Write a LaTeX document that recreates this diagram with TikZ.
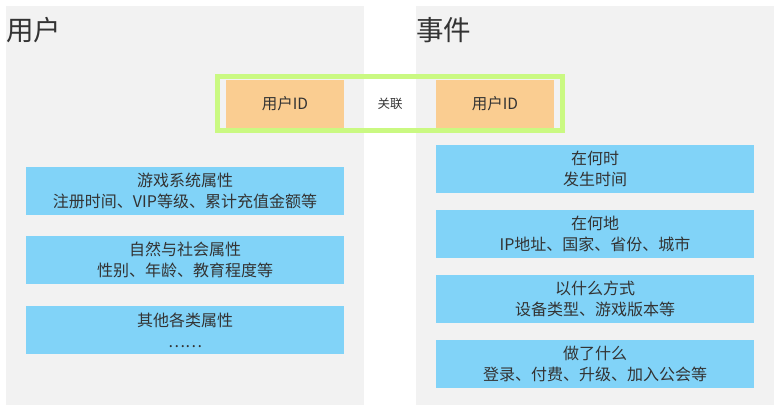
\documentclass[tikz,border=0pt]{standalone}
\usepackage{fontspec}
\setmainfont{Noto Sans CJK SC}
\definecolor{panel}{HTML}{F2F2F2}
\definecolor{bluebox}{HTML}{81D3F8}
\definecolor{orangebox}{HTML}{FACD91}
\definecolor{greenline}{HTML}{CAF982}
\definecolor{txt}{HTML}{333333}
\begin{document}
\begin{tikzpicture}[x=1pt,y=-1pt,
  panelbox/.style={fill=panel,draw=none},
  infobox/.style={fill=bluebox,draw=none,minimum width=318pt,minimum height=48pt,inner sep=0pt,
    align=center,text=txt,font=\fontsize{16}{21}\selectfont},
  idbox/.style={fill=orangebox,draw=none,minimum width=118pt,minimum height=48pt,inner sep=0pt,
    text=txt,font=\fontsize{15.5}{18}\selectfont},
  linkbox/.style={draw=greenline,line width=5pt,minimum width=345pt,minimum height=54pt,inner sep=0pt},
  titletext/.style={text=txt,font=\fontsize{27.5}{30}\selectfont,inner sep=0pt,anchor=west}]
\useasboundingbox (0,0) rectangle (775,405);
\fill[white] (0,0) rectangle (775,405);
\node[panelbox,minimum width=358pt,minimum height=399pt,inner sep=0pt,anchor=north west] (pleft) at (6,6) {};
\node[panelbox,minimum width=358pt,minimum height=399pt,inner sep=0pt,anchor=north west] (pright) at (416,6) {};
\node[titletext] (tuser) at (6,30) {用户};
\node[titletext] (tevent) at (416,30) {事件};
\node[linkbox] (link) at (390,103.5) {};
\node[idbox] (idl) at (285,104) {用户ID};
\node[idbox] (idr) at (495,104) {用户ID};
\node[text=txt,font=\fontsize{12.5}{14}\selectfont,inner sep=0pt] (rel) at (390,104) {关联};
\node[infobox] (l1) at (185,191) {游戏系统属性\\注册时间、VIP等级、累计充值金额等};
\node[infobox] (l2) at (185,260) {自然与社会属性\\性别、年龄、教育程度等};
\node[infobox] (l3) at (185,330) {其他各类属性\\……};
\node[infobox] (r1) at (595,169) {在何时\\发生时间};
\node[infobox] (r2) at (595,234) {在何地\\IP地址、国家、省份、城市};
\node[infobox] (r3) at (595,299) {以什么方式\\设备类型、游戏版本等};
\node[infobox] (r4) at (595,364) {做了什么\\登录、付费、升级、加入公会等};
\end{tikzpicture}
\end{document}
